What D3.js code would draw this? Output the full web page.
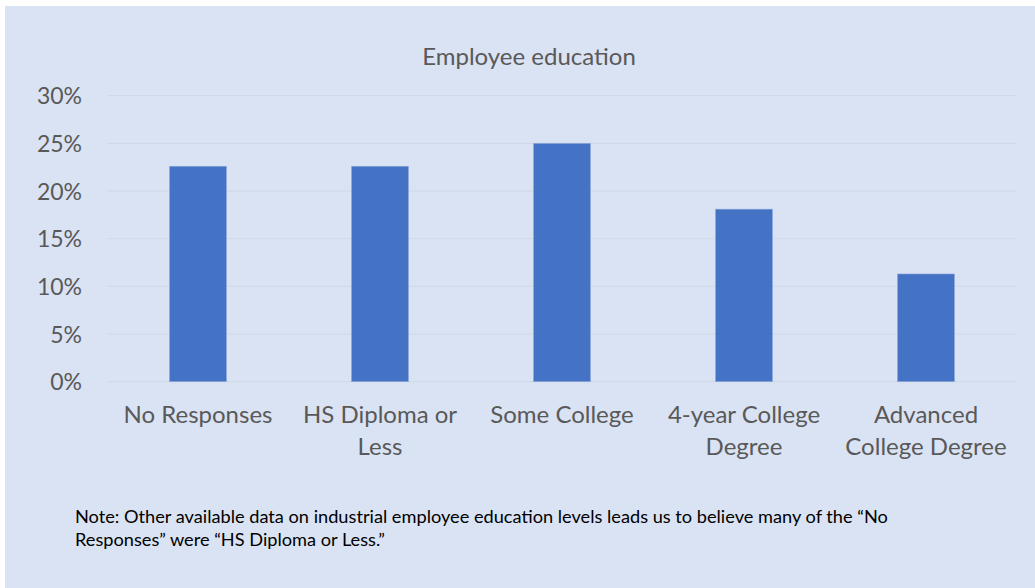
<!DOCTYPE html>
<html>
<head>
<meta charset="utf-8">
<script src="https://cdn.jsdelivr.net/npm/d3@7"></script>
<style>
  html, body { margin: 0; padding: 0; background: #ffffff; }
  svg { display: block; }
  text { font-family: Lato, "Open Sans", sans-serif; }
</style>
</head>
<body>
<svg id="chart" width="1035" height="588"></svg>
<script>
const chartTitle = "Employee education";
const categories = ["No Responses", "HS Diploma or Less", "Some College", "4-year College Degree", "Advanced College Degree"];
const shares = [0.226, 0.226, 0.250, 0.181, 0.113];
const yTicks = [0, 0.05, 0.10, 0.15, 0.20, 0.25, 0.30];
const noteLines = [
  "Note: Other available data on industrial employee education levels leads us to believe many of the \u201cNo",
  "Responses\u201d were \u201cHS Diploma or Less.\u201d"
];

const W = 1035, H = 588;
const margin = { left: 107, right: 18, top: 95.7, bottom: 206.3 };
const svg = d3.select("#chart");

svg.append("rect").attr("x", 5).attr("y", 6).attr("width", W - 5).attr("height", H - 6).attr("fill", "#DAE3F3");

const x = d3.scaleBand().domain(categories).range([margin.left, W - margin.right]).paddingInner(0.687).paddingOuter(0.3435);
const y = d3.scaleLinear().domain([0, 0.30]).range([H - margin.bottom, margin.top]);

// gridlines
svg.append("g").selectAll("line").data(yTicks).join("line")
  .attr("x1", margin.left).attr("x2", W - margin.right)
  .attr("y1", d => y(d)).attr("y2", d => y(d))
  .attr("stroke", "#D0D7E5").attr("stroke-width", 1);

// y axis labels
const yAxis = d3.axisLeft(y).tickValues(yTicks).tickFormat(d3.format(".0%")).tickSize(0).tickPadding(0);
const gy = svg.append("g").attr("transform", `translate(82,0)`).call(yAxis);
gy.select(".domain").remove();
gy.selectAll("text").attr("font-family", "Lato, sans-serif").attr("font-size", 23).attr("fill", "#595959").attr("dy", "0.35em");

// bars
svg.append("g").selectAll("rect").data(categories).join("rect")
  .attr("x", d => x(d)).attr("width", x.bandwidth())
  .attr("y", (d, i) => y(shares[i])).attr("height", (d, i) => y(0) - y(shares[i]))
  .attr("fill", "#4472C4").attr("stroke", "#8FAADC").attr("stroke-width", 0.6);

// x axis labels with wrapping
const xAxis = d3.axisBottom(x).tickSize(0).tickPadding(0);
const gx = svg.append("g").attr("transform", `translate(0,${y(0)})`).call(xAxis);
gx.select(".domain").remove();
gx.selectAll("text").each(function(d) {
  const t = d3.select(this);
  t.text(null).attr("font-family", "Lato, sans-serif").attr("font-size", 24).attr("fill", "#595959").attr("y", 0).attr("dy", null);
  const words = d.split(" ");
  const lines = [];
  let cur = [];
  const maxW = 178;
  const probe = t.append("tspan");
  words.forEach(w => {
    const tryLine = cur.concat([w]).join(" ");
    probe.text(tryLine);
    if (probe.node().getComputedTextLength() > maxW && cur.length) {
      lines.push(cur.join(" "));
      cur = [w];
    } else cur.push(w);
  });
  lines.push(cur.join(" "));
  probe.remove();
  lines.forEach((ln, i) => {
    t.append("tspan").attr("x", 0).attr("y", 41 + i * 32).text(ln);
  });
});

// title
svg.append("text").attr("x", 529).attr("y", 65).attr("text-anchor", "middle")
  .attr("font-size", 24).attr("fill", "#595959").text(chartTitle);

// note
svg.append("g").selectAll("text").data(noteLines).join("text")
  .attr("x", 75).attr("y", (d, i) => 523 + i * 23)
  .attr("font-size", 18.2).attr("fill", "#000000").text(d => d);
</script>
</body>
</html>
